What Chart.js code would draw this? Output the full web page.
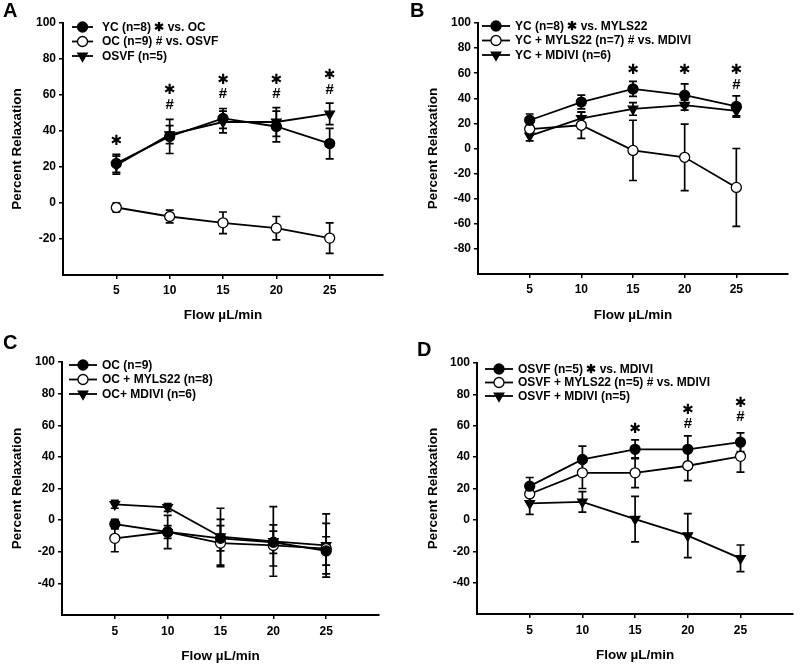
<!DOCTYPE html>
<html>
<head>
<meta charset="utf-8">
<script src="https://cdn.jsdelivr.net/npm/chart.js@4.4.1/dist/chart.umd.min.js"></script>
<style>
body { margin: 0; background: #fff; }
#wrap { position: relative; width: 800px; height: 665px; overflow: hidden; }
canvas { position: absolute; }
.panel-label { position: absolute; font: bold 20px "Liberation Sans", Arial, sans-serif; color: #000; line-height: 20px; }
</style>
</head>
<body>
<div id="wrap">
  <canvas id="chartA" width="400" height="330" style="left:0;top:0"></canvas>
  <canvas id="chartB" width="400" height="330" style="left:400px;top:0"></canvas>
  <canvas id="chartC" width="400" height="335" style="left:0;top:330px"></canvas>
  <canvas id="chartD" width="400" height="335" style="left:400px;top:330px"></canvas>
  <div class="panel-label" style="left:3px;top:0px">A</div>
  <div class="panel-label" style="left:410px;top:0px">B</div>
  <div class="panel-label" style="left:3px;top:332px">C</div>
  <div class="panel-label" style="left:417px;top:339px">D</div>
</div>
<script>
// flow rates (x values), same for every panel
const flows = [5, 10, 15, 20, 25];

// Panel A
const aYC = [22, 37, 47, 42.5, 33];
const aYCErr = [5, 9.5, 5.5, 8.5, 8.5];
const aOC = [-2.5, -7.5, -11, -14, -19.5];
const aOCErr = [2.5, 3.5, 6, 6.5, 8.5];
const aOSVF = [21, 38, 45, 45, 49.5];
const aOSVFErr = [5, 5, 6, 8, 6];
const aStars = [34, 62.5, 68, 68, 71];
const aHashes = [null, 54.5, 60.5, 60.5, 63];

// Panel B
const bYC = [22.5, 37, 47.5, 42.5, 33.5];
const bYCErr = [5, 5.5, 6, 9, 8.5];
const bMYLS = [15.5, 18.5, -1.5, -7, -31];
const bMYLSErr = [3, 10.5, 24, 26.5, 31];
const bMDIVI = [10, 24, 31.5, 34.5, 30];
const bMDIVIErr = [4, 5, 5, 4, 4];
const bStars = [null, null, 62.5, 62.5, 62.5];
const bHashes = [null, null, null, null, 51];

// Panel C
const cOC = [-2.5, -7.5, -11.5, -14, -19.5];
const cOCErr = [3, 4, 8, 7, 9];
const cMYLS = [-11.5, -7.5, -14.5, -16, -18];
const cMYLSErr = [8.5, 10.5, 15, 13, 16];
const cMDIVI = [10, 8, -10.5, -13.5, -16];
const cMDIVIErr = [2.5, 2.5, 18, 22, 20];

// Panel D
const dOSVF = [21.5, 38.5, 45, 45, 49.5];
const dOSVFErr = [5.5, 8.5, 6, 8.5, 6];
const dMYLS = [16.5, 30, 30, 34.5, 40.5];
const dMYLSErr = [5, 10, 9.5, 9.5, 10];
const dMDIVI = [10.5, 11.5, 0.5, -10, -24.5];
const dMDIVIErr = [7, 6.5, 14.5, 14, 8.5];
const dStars = [null, null, 57.5, 70, 74];
const dHashes = [null, null, null, 61, 65.5];

const FONT = '"Liberation Sans", Arial, sans-serif';

const markerStyles = {
    filled: { pointStyle: 'circle', pointRadius: 5, pointBackgroundColor: '#000', pointRotation: 0 },
    open: { pointStyle: 'circle', pointRadius: 5, pointBackgroundColor: '#fff', pointRotation: 0 },
    tri: { pointStyle: 'triangle', pointRadius: 5.5, pointBackgroundColor: '#000', pointRotation: 180 }
};

function makeDataset(label, values, errors, kind) {
    const st = markerStyles[kind];
    return Object.assign({
        label: label,
        data: values.map((v, i) => ({ x: flows[i], y: v })),
        errors: errors,
        kind: kind,
        borderColor: '#000',
        borderWidth: 1.8,
        pointBorderColor: '#000',
        pointBorderWidth: 1.3,
        tension: 0,
        fill: false
    }, st);
}

// draws the vertical error bars under the markers
const errorBars = {
    id: 'errorBars',
    beforeDatasetsDraw(chart) {
        const ctx = chart.ctx;
        const x = chart.scales.x, y = chart.scales.y;
        ctx.save();
        ctx.strokeStyle = '#000';
        ctx.lineWidth = 1.7;
        chart.data.datasets.forEach(ds => {
            ds.data.forEach((pt, i) => {
                const e = ds.errors[i];
                const px = x.getPixelForValue(pt.x);
                const top = y.getPixelForValue(pt.y + e);
                const bot = y.getPixelForValue(pt.y - e);
                ctx.beginPath();
                ctx.moveTo(px, top); ctx.lineTo(px, bot);
                ctx.moveTo(px - 4, top); ctx.lineTo(px + 4, top);
                ctx.moveTo(px - 4, bot); ctx.lineTo(px + 4, bot);
                ctx.stroke();
            });
        });
        ctx.restore();
    }
};

// significance marks (* and #) above the points
const sigMarks = {
    id: 'sigMarks',
    afterDatasetsDraw(chart, args, opts) {
        if (!opts.stars) return;
        const ctx = chart.ctx;
        const x = chart.scales.x, y = chart.scales.y;
        ctx.save();
        ctx.fillStyle = '#000';
        ctx.textAlign = 'center';
        ctx.textBaseline = 'middle';
        flows.forEach((f, i) => {
            const px = x.getPixelForValue(f);
            if (opts.stars[i] != null) {
                ctx.font = 'bold 14px "DejaVu Sans"';
                ctx.fillText('\u2731', px, y.getPixelForValue(opts.stars[i]));
            }
            if (opts.hashes && opts.hashes[i] != null) {
                ctx.font = 'bold 15px ' + FONT;
                ctx.fillText('#', px, y.getPixelForValue(opts.hashes[i]));
            }
        });
        ctx.restore();
    }
};

function drawMarker(ctx, kind, cx, cy) {
    ctx.beginPath();
    if (kind === 'tri') {
        const r = 5.5;
        ctx.moveTo(cx, cy + r);
        ctx.lineTo(cx - r * 0.866, cy - r * 0.5);
        ctx.lineTo(cx + r * 0.866, cy - r * 0.5);
        ctx.closePath();
        ctx.fillStyle = '#000';
    } else {
        ctx.arc(cx, cy, 5, 0, Math.PI * 2);
        ctx.fillStyle = kind === 'open' ? '#fff' : '#000';
    }
    ctx.fill();
    ctx.lineWidth = 1.3;
    ctx.stroke();
}

// legend: short line with marker, then text
const lineLegend = {
    id: 'lineLegend',
    afterDraw(chart, args, opts) {
        const ctx = chart.ctx;
        ctx.save();
        ctx.strokeStyle = '#000';
        ctx.fillStyle = '#000';
        chart.data.datasets.forEach((ds, i) => {
            const ry = opts.rows[i];
            ctx.lineWidth = 1.8;
            ctx.beginPath();
            ctx.moveTo(opts.x1, ry); ctx.lineTo(opts.x2, ry);
            ctx.stroke();
            drawMarker(ctx, ds.kind, (opts.x1 + opts.x2) / 2, ry);
            ctx.fillStyle = '#000';
            ctx.font = 'bold 12px ' + FONT;
            ctx.textAlign = 'left';
            ctx.textBaseline = 'middle';
            ctx.fillText(ds.label, opts.tx, ry + 0.5);
        });
        ctx.restore();
    }
};

function makePanel(id, datasets, p) {
    const tickFont = { family: FONT, size: 12, weight: 'bold' };
    const titleFont = { family: FONT, size: 13.5, weight: 'bold' };
    return new Chart(document.getElementById(id), {
        type: 'line',
        data: { datasets: datasets },
        options: {
            responsive: false,
            animation: false,
            events: [],
            layout: { padding: p.padding },
            plugins: {
                legend: { display: false },
                tooltip: { enabled: false },
                sigMarks: { stars: p.stars, hashes: p.hashes },
                lineLegend: p.legend
            },
            scales: {
                x: {
                    type: 'linear',
                    min: 0,
                    max: 30,
                    border: { display: true, color: '#000', width: 2 },
                    grid: { drawOnChartArea: false, drawTicks: true, tickLength: 4, tickColor: '#000', lineWidth: 1.5 },
                    ticks: {
                        stepSize: 5, color: '#000', font: tickFont, padding: p.xPad, maxRotation: 0, autoSkip: false,
                        callback: v => (v === 0 || v === 30) ? null : v
                    },
                    title: { display: true, text: 'Flow µL/min', color: '#000', font: titleFont, padding: 0 },
                    afterFit: s => { s.height = p.xHeight; }
                },
                y: {
                    min: p.yMin,
                    max: 100,
                    border: { display: true, color: '#000', width: 2 },
                    grid: { drawOnChartArea: false, drawTicks: true, tickLength: 4, tickColor: '#000', lineWidth: 1.5 },
                    ticks: {
                        stepSize: 20, color: '#000', font: tickFont, padding: 3, autoSkip: false,
                        callback: v => v === p.yMin ? null : v
                    },
                    title: { display: true, text: 'Percent Relaxation', color: '#000', font: titleFont, padding: 0 },
                    afterFit: s => { s.width = p.yWidth; }
                }
            }
        },
        plugins: [errorBars, sigMarks, lineLegend]
    });
}

makePanel('chartA', [
    makeDataset('YC (n=8) \u2731 vs. OC', aYC, aYCErr, 'filled'),
    makeDataset('OC (n=9) # vs. OSVF', aOC, aOCErr, 'open'),
    makeDataset('OSVF (n=5)', aOSVF, aOSVFErr, 'tri')
], {
    padding: { left: 9, right: 17, top: 23, bottom: 7 },
    yWidth: 54, xHeight: 48, xPad: 4, yMin: -40,
    stars: aStars, hashes: aHashes,
    legend: { x1: 72, x2: 93, tx: 102, rows: [27, 41.5, 56] }
});

makePanel('chartB', [
    makeDataset('YC (n=8) \u2731 vs. MYLS22', bYC, bYCErr, 'filled'),
    makeDataset('YC + MYLS22 (n=7) # vs. MDIVI', bMYLS, bMYLSErr, 'open'),
    makeDataset('YC + MDIVI (n=6)', bMDIVI, bMDIVIErr, 'tri')
], {
    padding: { left: 25, right: 12, top: 23, bottom: 7 },
    yWidth: 53, xHeight: 49, xPad: 4, yMin: -100,
    stars: bStars, hashes: bHashes,
    legend: { x1: 82, x2: 110, tx: 115, rows: [26, 40.5, 55] }
});

makePanel('chartC', [
    makeDataset('OC (n=9)', cOC, cOCErr, 'filled'),
    makeDataset('OC + MYLS22 (n=8)', cMYLS, cMYLSErr, 'open'),
    makeDataset('OC+ MDIVI (n=6)', cMDIVI, cMDIVIErr, 'tri')
], {
    padding: { left: 9, right: 21, top: 32, bottom: 1 },
    yWidth: 53, xHeight: 49, xPad: 5.5, yMin: -60,
    stars: null, hashes: null,
    legend: { x1: 69, x2: 97, tx: 102, rows: [35, 49.5, 64] }
});

makePanel('chartD', [
    makeDataset('OSVF (n=5) \u2731 vs. MDIVI', dOSVF, dOSVFErr, 'filled'),
    makeDataset('OSVF + MYLS22 (n=5) # vs. MDIVI', dMYLS, dMYLSErr, 'open'),
    makeDataset('OSVF + MDIVI (n=5)', dMDIVI, dMDIVIErr, 'tri')
], {
    padding: { left: 25, right: 3, top: 33, bottom: 2 },
    yWidth: 52, xHeight: 49, xPad: 5.5, yMin: -60,
    stars: dStars, hashes: dHashes,
    legend: { x1: 85, x2: 113, tx: 118, rows: [39, 52.5, 66] }
});
</script>
</body>
</html>
